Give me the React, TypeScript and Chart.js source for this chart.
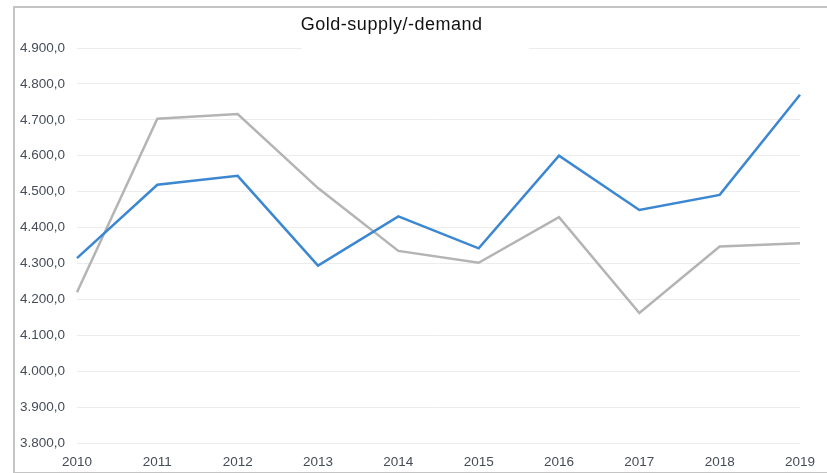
import React, { useEffect, useRef } from "react";
import { Chart, registerables } from "chart.js";

Chart.register(...registerables);

const years = ["2010", "2011", "2012", "2013", "2014", "2015", "2016", "2017", "2018", "2019"];
const supply = [4315, 4519, 4544, 4294, 4431, 4342, 4600, 4449, 4491, 4770];
const demand = [4220, 4703, 4716, 4510, 4335, 4302, 4429, 4162, 4347, 4356];
const titleText = "Gold-supply/-demand";
const yMin = 3800;
const yMax = 4900;
const yStep = 100;

const fmt = (v: number) => {
  const s = Math.round(v).toString();
  const th = s.length > 3 ? s.slice(0, s.length - 3) + "." + s.slice(s.length - 3) : s;
  return th + ",0";
};

const titlePlugin = {
  id: "customTitle",
  beforeDatasetsDraw(chart: any) {
    const { ctx, chartArea } = chart;
    const w = chartArea.right - chartArea.left;
    const x0 = chartArea.left + w * 0.311;
    const x1 = chartArea.left + w * 0.625;
    ctx.save();
    ctx.fillStyle = "#ffffff";
    ctx.fillRect(x0, chartArea.top - 8, x1 - x0, 12);
    ctx.fillStyle = "#111111";
    ctx.font = "18px 'Liberation Sans', Arial, sans-serif";
    try {
      (ctx as any).letterSpacing = "0.5px";
    } catch (e) {}
    ctx.textAlign = "left";
    ctx.textBaseline = "middle";
    ctx.fillText(titleText, x0 - 1, chartArea.top - 23);
    ctx.restore();
  },
};

export default function App() {
  const ref = useRef<HTMLCanvasElement | null>(null);
  useEffect(() => {
    if (!ref.current) return;
    const font = { family: "'Liberation Sans', Arial, sans-serif", size: 13.5 };
    const chart = new Chart(ref.current, {
      type: "line",
      data: {
        labels: years,
        datasets: [
          {
            label: "Supply",
            data: supply,
            borderColor: "#3b87d1",
            borderWidth: 2.5,
            pointRadius: 0,
            tension: 0,
            fill: false,
          },
          {
            label: "Demand",
            data: demand,
            borderColor: "#b4b4b4",
            borderWidth: 2.5,
            pointRadius: 0,
            tension: 0,
            fill: false,
          },
        ],
      },
      options: {
        animation: false,
        responsive: false,
        devicePixelRatio: 1,
        layout: { padding: { left: 0, right: 27, top: 48, bottom: 0 } },
        plugins: { legend: { display: false }, title: { display: false }, tooltip: { enabled: false } },
        scales: {
          x: {
            offset: false,
            grid: { display: false, drawTicks: false },
            border: { display: false },
            ticks: { color: "#464c58", font, padding: 11, maxRotation: 0, autoSkip: false },
            afterFit: (s: any) => {
              s.height = 30;
            },
          },
          y: {
            min: yMin,
            max: yMax,
            grid: { color: "#ececec", lineWidth: 1, drawTicks: false },
            border: { display: false },
            ticks: {
              stepSize: yStep,
              color: "#464c58",
              font,
              padding: 12,
              callback: (v: any) => fmt(Number(v)),
            },
            afterFit: (s: any) => {
              s.width = 77;
            },
          },
        },
      },
      plugins: [titlePlugin],
    });
    return () => chart.destroy();
  }, []);

  return (
    <div style={{ position: "fixed", left: 0, top: 0, width: 827, height: 473, background: "#ffffff", overflow: "hidden" }}>
      <canvas ref={ref} width={827} height={473} style={{ position: "absolute", left: 0, top: 0 }} />
      <div
        style={{
          position: "absolute",
          left: 13,
          top: 6,
          width: 900,
          height: 464,
          borderLeft: "2px solid #c4c4c4",
          borderTop: "2px solid #c4c4c4",
          borderBottom: "2px solid #c4c4c4",
          pointerEvents: "none",
        }}
      />
    </div>
  );
}
